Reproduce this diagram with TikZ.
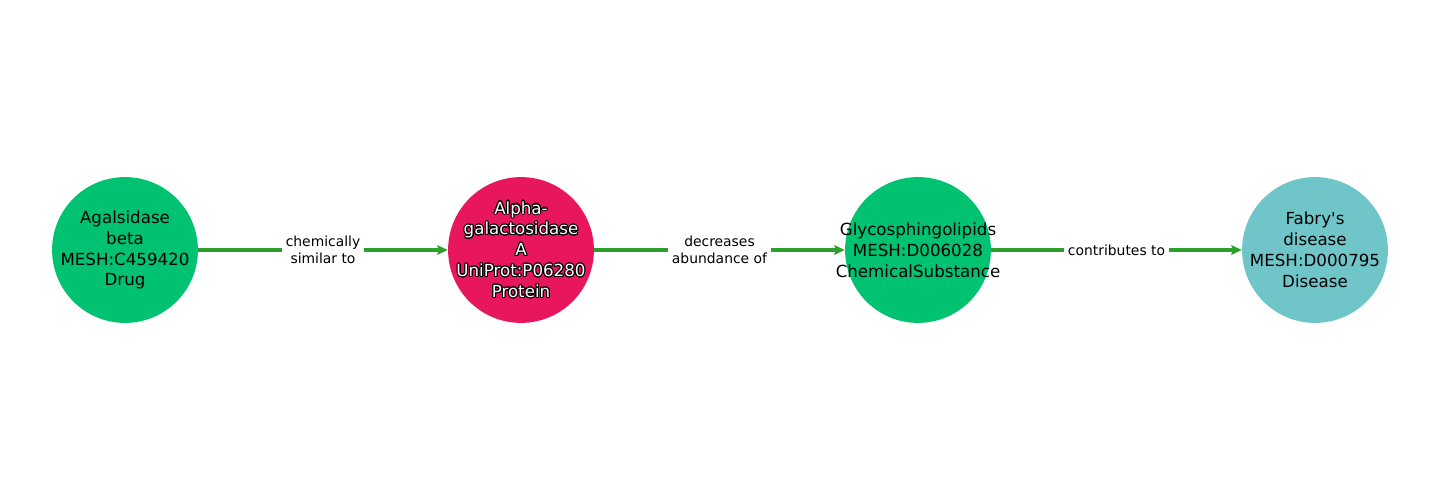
\documentclass[tikz,border=0pt]{standalone}
\usepackage{fontspec}
\setmainfont{DejaVu Sans}
\usepackage{contour}
\contourlength{0.75pt}
\usetikzlibrary{arrows.meta}
\definecolor{drugGreen}{HTML}{00C270}
\definecolor{protPink}{HTML}{E8175D}
\definecolor{disTeal}{HTML}{70C5C9}
\definecolor{edgeGreen}{HTML}{2CA02C}
\newcommand{\wline}[1]{\contour{black}{\textcolor{white}{#1}}}
\begin{document}
\begin{tikzpicture}[x=0.72pt,y=0.72pt,
    ent/.style={circle,minimum size=105pt,inner sep=0pt},
    txt/.style={align=center,inner sep=0pt,font=\fontsize{12}{15}\selectfont},
    rel/.style={draw=edgeGreen,line width=2.2pt,-{Stealth[length=7.5pt,width=6.8pt,inset=1pt]}},
    lbl/.style={fill=white,inner sep=3pt,align=center,text=black,
      font=\fontsize{10}{11.8}\selectfont}]
  \useasboundingbox (0,0) rectangle (1440,500);
  \node[ent,fill=drugGreen,label={[txt]center:{Agalsidase\\beta\\MESH:C459420\\Drug}}] (drug) at (125,250) {};
  \node[ent,fill=protPink,label={[txt]center:{\wline{Alpha-}\\\wline{galactosidase}\\\wline{A}\\\wline{UniProt:P06280}\\\wline{Protein}}}] (prot) at (521,250) {};
  \node[ent,fill=drugGreen,label={[txt]center:{Glycosphingolipids\\MESH:D006028\\ChemicalSubstance}}] (chem) at (918,250) {};
  \node[ent,fill=disTeal,label={[txt]center:{Fabry\textquotesingle s\\disease\\MESH:D000795\\Disease}}] (dis) at (1315,250) {};
  \draw[rel] (drug) -- node[lbl] {chemically\\similar to} (prot);
  \draw[rel] (prot) -- node[lbl] {decreases\\abundance of} (chem);
  \draw[rel] (chem) -- node[lbl] {contributes to} (dis);
\end{tikzpicture}
\end{document}
